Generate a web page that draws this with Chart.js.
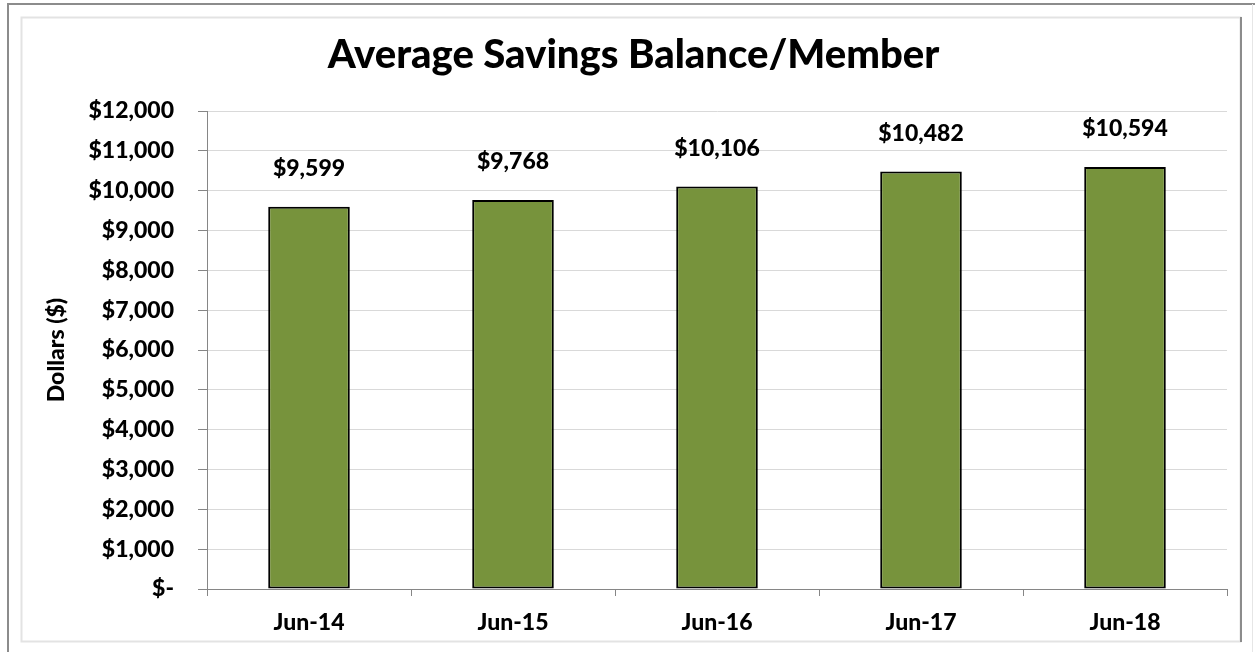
<!DOCTYPE html>
<html lang="en">
  <head>
    <meta charset="UTF-8" />
    <title>Average Savings Balance/Member</title>
    <script src="https://cdn.jsdelivr.net/npm/chart.js"></script>
    <style>
      body {
        margin: 0;
        padding: 0;
        background: #fff;
      }
      #savingsChart {
        display: block;
      }
    </style>
  </head>
  <body>
    <canvas id="savingsChart" width="1255" height="652"></canvas>

    <script>
      const periods = ["Jun-14", "Jun-15", "Jun-16", "Jun-17", "Jun-18"];
      const avgBalance = [9599, 9768, 10106, 10482, 10594];
      const yTicks = [0, 1000, 2000, 3000, 4000, 5000, 6000, 7000, 8000, 9000, 10000, 11000, 12000];

      const fontFamily = "Lato, 'Open Sans', sans-serif";
      const heavy = 900;

      function money(v) {
        if (v === 0) return "$-";
        return "$" + v.toLocaleString("en-US");
      }

      // frame around the chart
      const framePlugin = {
        id: "frame",
        beforeDraw(chart) {
          const ctx = chart.ctx;
          ctx.save();
          ctx.fillStyle = "#fff";
          ctx.fillRect(0, 0, chart.width, chart.height);
          ctx.strokeStyle = "#8c8c8c";
          ctx.lineWidth = 2;
          ctx.beginPath();
          ctx.moveTo(8, chart.height);
          ctx.lineTo(8, 4);
          ctx.lineTo(chart.width, 4);
          ctx.stroke();
          ctx.strokeStyle = "#e3e3e3";
          ctx.lineWidth = 2;
          ctx.strokeRect(21.5, 17.5, 1219, 624);
          ctx.strokeStyle = "#8c8c8c";
          ctx.beginPath();
          ctx.moveTo(1241, 17);
          ctx.lineTo(1241, 642);
          ctx.stroke();
          ctx.strokeStyle = "#e6e6e6";
          ctx.lineWidth = 1;
          ctx.beginPath();
          ctx.moveTo(1252.5, 4);
          ctx.lineTo(1252.5, chart.height);
          ctx.stroke();
          ctx.restore();
        },
      };

      // value labels above each bar
      const valueLabels = {
        id: "valueLabels",
        afterDatasetsDraw(chart) {
          const ctx = chart.ctx;
          const meta = chart.getDatasetMeta(0);
          ctx.save();
          ctx.font = heavy + " 23px " + fontFamily;
          ctx.fillStyle = "#000";
          ctx.textAlign = "center";
          ctx.textBaseline = "middle";
          meta.data.forEach((bar, i) => {
            ctx.fillText(money(avgBalance[i]), bar.x, bar.y - 38);
          });
          ctx.restore();
        },
      };

      const ctx = document.getElementById("savingsChart").getContext("2d");
      new Chart(ctx, {
        type: "bar",
        data: {
          labels: periods,
          datasets: [
            {
              label: "Average Savings Balance",
              data: avgBalance,
              backgroundColor: "#77933c",
              borderColor: "#000",
              borderWidth: 2,
              borderSkipped: false,
              categoryPercentage: 1,
              barPercentage: 0.4,
            },
          ],
        },
        options: {
          responsive: false,
          animation: false,
          layout: {
            padding: { left: 40, right: 28, top: 10, bottom: 20 },
          },
          plugins: {
            legend: { display: false },
            tooltip: { enabled: false },
            title: {
              display: true,
              text: "Average Savings Balance/Member",
              color: "#000",
              font: { family: fontFamily, size: 40, weight: heavy },
              padding: { top: 21, bottom: 32 },
            },
          },
          scales: {
            x: {
              grid: {
                drawOnChartArea: false,
                offset: true,
                tickLength: 7,
                tickColor: "#868686",
              },
              border: { color: "#868686", width: 1 },
              ticks: {
                color: "#000",
                padding: 13,
                font: { family: fontFamily, size: 23, weight: heavy },
              },
              afterFit(scale) {
                scale.height = 43;
              },
            },
            y: {
              min: 0,
              max: 12000,
              afterBuildTicks(scale) {
                scale.ticks = yTicks.map((v) => ({ value: v }));
              },
              grid: {
                color: "#d9d9d9",
                tickColor: "#868686",
                tickLength: 9,
              },
              border: { color: "#868686", width: 1 },
              ticks: {
                color: "#000",
                padding: 24,
                font: { family: fontFamily, size: 23, weight: heavy },
                callback: (v) => money(v),
              },
              title: {
                display: true,
                text: "Dollars ($)",
                color: "#000",
                font: { family: fontFamily, size: 23, weight: heavy },
                padding: { top: 3, bottom: 0 },
              },
              afterFit(scale) {
                scale.width = 167;
              },
            },
          },
        },
        plugins: [framePlugin, valueLabels],
      });
    </script>
  </body>
</html>
